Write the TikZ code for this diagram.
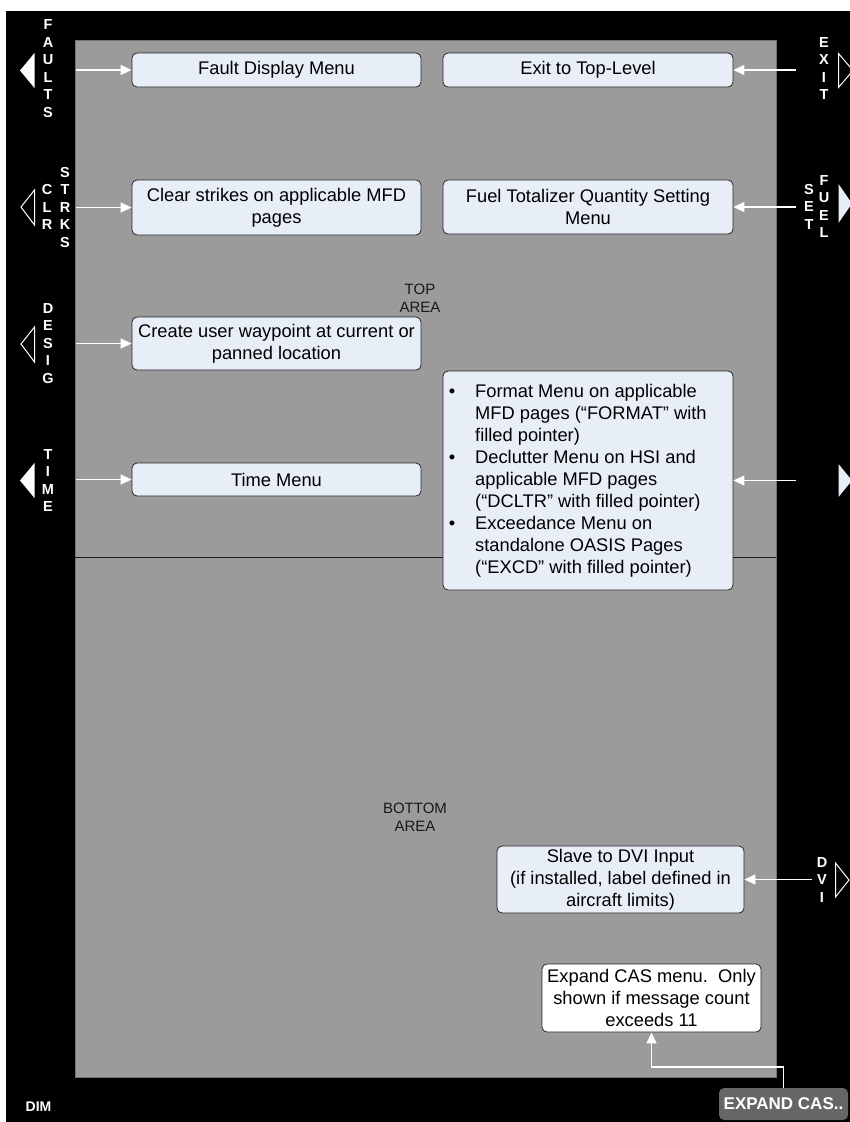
\documentclass[tikz,border=0pt]{standalone}
\usepackage{fontspec}
\setmainfont{Liberation Sans}
\usetikzlibrary{arrows.meta}
\definecolor{boxblue}{HTML}{E8EEF8}
\definecolor{panelgray}{HTML}{9B9B9B}
\definecolor{expgray}{HTML}{666666}
\definecolor{areatext}{HTML}{1A1A1A}
\begin{document}
\begin{tikzpicture}[x=1pt,y=-1pt,
  menubox/.style={draw=black!85, fill=boxblue, rounded corners=5pt, line width=0.8pt,
    font=\fontsize{18.3}{22}\selectfont, align=center, inner sep=0pt},
  arr/.style={white, line width=1.4pt, -{Triangle[length=11pt,width=10pt]}},
  sidelabel/.style={text=white, font=\fontsize{14.5}{17.5}\selectfont\bfseries, align=center, inner sep=0pt},
  arealabel/.style={text=areatext, font=\fontsize{15}{18}\selectfont, align=center, inner sep=0pt},
  btnfill/.style={fill=white},
  btnfillr/.style={fill=boxblue},
  btnline/.style={draw=white, line width=1pt, line join=miter}
]
\useasboundingbox (0,0) rectangle (849,1122);
\fill[white] (0,0) rectangle (849,1122);
\fill[black] (6,11) rectangle (852,1122);
\filldraw[fill=panelgray, draw=black!55, line width=0.8pt] (75,40) rectangle (776,1077);
\draw[black!90, line width=0.8pt] (75,557.5) -- (776,557.5);

% area labels
\node[arealabel] (toparea) at (420,298) {TOP\\AREA};
\node[arealabel] (botarea) at (415,817) {BOTTOM\\AREA};

% menu boxes
\node[menubox, minimum width=289pt, minimum height=34pt] (fault) at (276.5,70) {Fault Display Menu};
\node[menubox, minimum width=290pt, minimum height=34pt] (exit) at (588,70) {Exit to Top-Level};
\node[menubox, minimum width=289pt, minimum height=55pt] (clear) at (276.5,207.5) {Clear strikes on applicable MFD\\pages};
\node[menubox, minimum width=290pt, minimum height=54pt] (fuel) at (588,207) {Fuel Totalizer Quantity Setting\\Menu};
\node[menubox, minimum width=289pt, minimum height=53pt] (create) at (276.5,343.5) {Create user waypoint at current or\\panned location};
\node[menubox, minimum width=289pt, minimum height=33pt] (time) at (276.5,479.5) {Time Menu};
\node[menubox, minimum width=290pt, minimum height=219pt] (fmt) at (588,480.5) {};
\node[anchor=north west, inner sep=0pt, align=left, font=\fontsize{18.3}{22}\selectfont] (fmttext) at (475,384.5)
  {\llap{\textbullet\hspace{20pt}}Format Menu on applicable\\
   MFD pages (“FORMAT” with\\
   filled pointer)\\
   \llap{\textbullet\hspace{20pt}}Declutter Menu on HSI and\\
   applicable MFD pages\\
   (“DCLTR” with filled pointer)\\
   \llap{\textbullet\hspace{20pt}}Exceedance Menu on\\
   standalone OASIS Pages\\
   (“EXCD” with filled pointer)};
\node[menubox, minimum width=247pt, minimum height=67pt] (slave) at (620.5,879.5) {Slave to DVI Input\\(if installed, label defined in\\aircraft limits)};
\node[menubox, fill=white, minimum width=219pt, minimum height=68pt] (cas) at (651.5,998) {Expand CAS menu.\ \ Only\\shown if message count\\exceeds 11};
\node[fill=expgray, rounded corners=5pt, text=white, font=\fontsize{17}{20}\selectfont\bfseries,
  minimum width=129pt, minimum height=32pt, inner sep=0pt] (exp) at (783.5,1104) {EXPAND CAS..};
\node[sidelabel, font=\fontsize{14}{17}\selectfont\bfseries] (dim) at (38.5,1107) {DIM};

% side buttons (left)
\fill[btnfill] (20,70.5) -- (34.5,53) -- (34.5,88) -- cycle;
\draw[btnline] (21,207) -- (34.5,190) -- (34.5,225) -- cycle;
\draw[btnline] (21,344) -- (34.5,327) -- (34.5,362) -- cycle;
\fill[btnfill] (20,480.5) -- (34.5,463) -- (34.5,498) -- cycle;
% side buttons (right)
\draw[btnline] (838.5,53.5) -- (853,70.5) -- (838.5,87.5) -- cycle;
\fill[btnfillr] (838.5,184) -- (852,203.5) -- (838.5,223) -- cycle;
\fill[btnfillr] (838.5,464) -- (852,480.5) -- (838.5,497) -- cycle;
\draw[btnline] (835.5,863) -- (849,880) -- (835.5,897) -- cycle;

% side labels
\node[sidelabel] (lfaults) at (48,68.5) {F\\A\\U\\L\\T\\S};
\node[sidelabel] (lclr) at (47,207) {C\\L\\R};
\node[sidelabel] (lstrks) at (65,207.5) {S\\T\\R\\K\\S};
\node[sidelabel] (ldesig) at (48,343.5) {D\\E\\S\\I\\G};
\node[sidelabel] (ltime) at (48,480.5) {T\\I\\M\\E};
\node[sidelabel] (lexit) at (824,68.5) {E\\X\\I\\T};
\node[sidelabel] (lset) at (809,206.5) {S\\E\\T};
\node[sidelabel] (lfuel) at (824,206.5) {F\\U\\E\\L};
\node[sidelabel] (ldvi) at (822,879.5) {D\\V\\I};

% arrow start points
\coordinate (sfault) at (76,70);
\coordinate (sclear) at (76,207.5);
\coordinate (screate) at (76,343.5);
\coordinate (stime) at (76,479.5);
\coordinate (sexit) at (796,70);
\coordinate (sfuel) at (796,207);
\coordinate (sfmt) at (796,480.5);
\coordinate (sslave) at (812,879.5);

\draw[arr] (sfault) -- (fault.west);
\draw[arr] (sclear) -- (clear.west);
\draw[arr] (screate) -- (create.west);
\draw[arr] (stime) -- (time.west);
\draw[arr] (sexit) -- (exit.east);
\draw[arr] (sfuel) -- (fuel.east);
\draw[arr] (sfmt) -- (fmt.east);
\draw[arr] (sslave) -- (slave.east);
\draw[arr] (exp.north) -- ++(0,-21) -| (cas.south);
\end{tikzpicture}
\end{document}
